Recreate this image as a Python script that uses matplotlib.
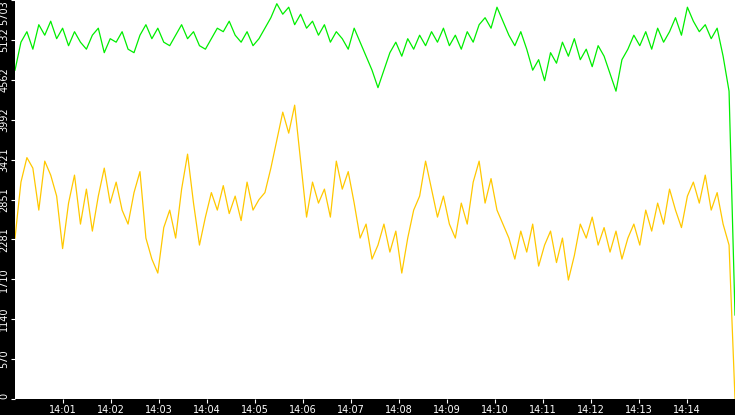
import matplotlib
matplotlib.use("Agg")
import matplotlib.pyplot as plt
import numpy as np

green = [4700, 5100, 5250, 5000, 5350, 5200, 5400, 5150, 5300, 5050, 5250, 5100, 5000, 5200,
         5300, 4950, 5150, 5100, 5250, 5000, 4950, 5200, 5350, 5150, 5300, 5100,
         5050, 5200, 5350, 5150, 5250, 5050, 5000, 5150, 5300, 5250, 5400, 5200,
         5100, 5250, 5050, 5150, 5300, 5450, 5650, 5500, 5600, 5350, 5500, 5300,
         5400, 5200, 5350, 5100, 5250, 5150, 5000, 5300, 5100, 4900, 4700, 4450,
         4700, 4950, 5100, 4900, 5150, 5000, 5200, 5050, 5250, 5100, 5300, 5050,
         5200, 5000, 5250, 5100, 5350, 5450, 5300, 5600, 5400, 5200, 5050, 5250,
         5000, 4700, 4850, 4550, 4950, 4800, 5100, 4900, 5150, 4850, 5000, 4750,
         5050, 4900, 4650, 4400, 4850, 5000, 5200, 5050, 5250, 5000, 5300, 5100,
         5250, 5450, 5200, 5600, 5400, 5250, 5350, 5150, 5300, 4900, 4400, 1200]
yellow = [2300, 3100, 3450, 3300, 2700, 3400, 3200, 2900, 2150, 2800, 3200, 2500, 3000, 2400,
          2900, 3300, 2800, 3100, 2700, 2500, 2950, 3250, 2300, 2000, 1800, 2450,
          2700, 2300, 3000, 3500, 2800, 2200, 2600, 2950, 2700, 3050, 2650, 2900,
          2550, 3100, 2700, 2850, 2950, 3300, 3700, 4100, 3800, 4200, 3400, 2600,
          3100, 2800, 3000, 2600, 3400, 3000, 3250, 2800, 2300, 2500, 2000, 2200,
          2500, 2100, 2400, 1800, 2300, 2700, 2900, 3400, 3000, 2600, 2900, 2500,
          2300, 2800, 2500, 3100, 3400, 2800, 3150, 2700, 2500, 2300, 2000, 2400,
          2100, 2500, 1900, 2200, 2400, 1950, 2300, 1700, 2050, 2500, 2300, 2600,
          2200, 2450, 2100, 2400, 2000, 2300, 2500, 2200, 2700, 2400, 2800, 2500,
          3000, 2700, 2450, 2900, 3100, 2800, 3200, 2700, 2950, 2500, 2200, 0]
y_ticks = [0, 570, 1140, 1710, 2281, 2851, 3421, 3992, 4562, 5132, 5703]
x_labels = ["14:%02d" % m for m in range(1, 15)]

t = np.linspace(0, 15, len(green))
fig = plt.figure(figsize=(7.35, 4.15), dpi=100, facecolor="black")
ax = fig.add_axes([15/735, 16/415, 720/735, 399/415])
ax.set_facecolor("white")
ax.plot(t, green, color="#00ee00", lw=0.9)
ax.plot(t, yellow, color="#ffc800", lw=0.9)
ax.set_xlim(0, 15)
ax.set_ylim(0, 5703)
ax.set_yticks(y_ticks)
labs = ax.set_yticklabels([str(v) for v in y_ticks], rotation=90, va="center")
labs[-1].set_va("top")
labs[0].set_va("bottom")
ax.set_xticks(range(1, 15))
ax.set_xticklabels(x_labels)
ax.tick_params(colors="white", labelsize=7, length=3, pad=1)
for s in ax.spines.values():
    s.set_visible(False)
fig.savefig("out.png", dpi=100, facecolor="black")
